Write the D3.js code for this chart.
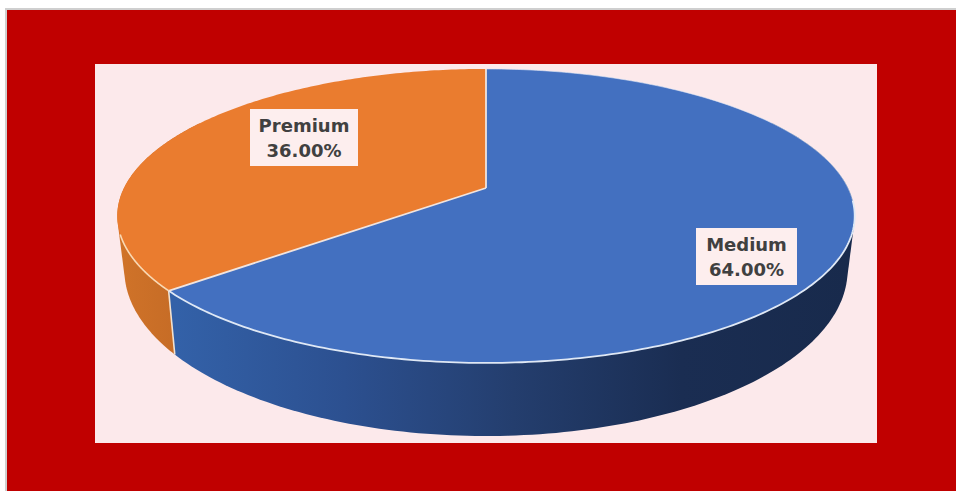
<!DOCTYPE html>
<html>
<head>
<meta charset="utf-8">
<script src="https://cdn.jsdelivr.net/npm/d3@7"></script>
<style>
  html, body { margin: 0; padding: 0; background: #fff; }
  svg { display: block; }
  text { font-family: "DejaVu Sans", sans-serif; font-weight: 700; }
</style>
</head>
<body>
<svg id="chart" width="957" height="491"></svg>
<script>
// Share of sales by product tier
const categories = ["Medium", "Premium"];
const shares = [64, 36];
const topColors = ["#4370c0", "#ea7c2f"];
const wallStops = [
  ["#3361a8", "#2c5090", "#243e6e", "#1a2d52", "#182a4c"],
  ["#d07329", "#c66c26"]
];
const labelText = ["64.00%", "36.00%"];

const svg = d3.select("#chart");

// Frame and plot panel
svg.append("rect").attr("x", 5).attr("y", 8).attr("width", 951).attr("height", 483).attr("fill", "#cfcfcf");
svg.append("rect").attr("x", 7).attr("y", 10).attr("width", 949).attr("height", 481).attr("fill", "#c00000");
svg.append("rect").attr("x", 95).attr("y", 64).attr("width", 782).attr("height", 379).attr("fill", "#fce9eb");

// Tilted disc: a unit circle under a perspective divide
const tilt = 0.19;
const toU = t => Math.sin(t) / (1 + tilt * Math.cos(t));
const toV = t => -Math.cos(t) / (1 + tilt * Math.cos(t));

const topX = d3.scaleLinear().domain([-1, 1]).range([486 - 362, 486 + 362]);
const topY = d3.scaleLinear().domain([0, 1]).range([188, 188 + 141.7]);
const baseX = d3.scaleLinear().domain([-1, 1]).range([486 - 355, 486 + 355]);
const baseY = d3.scaleLinear().domain([0, 1]).range([238.5, 238.5 + 160]);

const onTop = t => [topX(toU(t)), topY(toV(t))];
const onBase = t => [baseX(toU(t)), baseY(toV(t))];
const sweep = (from, to, fn) => {
  const n = 160;
  return d3.range(n + 1).map(i => fn(from + (to - from) * i / n));
};

const pie = d3.pie().sort(null)(shares);
const outline = d3.line();
const rad = d => d * Math.PI / 180;

// Side walls are filled with left-to-right shading
const defs = svg.append("defs");
wallStops.forEach((stops, i) => {
  const span = i === 0 ? [176, 850] : [118, 176];
  const g = defs.append("linearGradient")
    .attr("id", "wall" + i)
    .attr("gradientUnits", "userSpaceOnUse")
    .attr("x1", span[0]).attr("x2", span[1]).attr("y1", 0).attr("y2", 0);
  stops.forEach((c, j) => g.append("stop")
    .attr("offset", j / (stops.length - 1)).attr("stop-color", c));
});

// Each wall is the convex outline of its rim and base arcs; the upper face hides the rest.
// The rear slice's wall goes first so the front wall keeps the corner edge clean.
const seam = pie[0].endAngle;
const wallRanges = [[rad(60), seam], [seam, rad(300)]];
[1, 0].forEach(i => {
  const r = wallRanges[i];
  const hull = d3.polygonHull(sweep(r[0], r[1], onTop).concat(sweep(r[0], r[1], onBase)));
  svg.append("path")
    .attr("d", outline(hull) + "Z")
    .attr("fill", `url(#wall${i})`);
});

// Pale line down the front corner where the two walls meet
svg.append("path")
  .attr("d", outline([onTop(seam), onBase(seam)]))
  .attr("stroke", "#f3e2cf").attr("stroke-width", 1.6).attr("fill", "none");

// Upper faces of the slices
const hub = [topX(0), topY(0)];
pie.forEach((slice, i) => {
  const pts = [hub].concat(sweep(slice.startAngle, slice.endAngle, onTop));
  svg.append("path")
    .attr("d", outline(pts) + "Z")
    .attr("fill", topColors[i]);
});

// Rim and spokes
svg.append("path")
  .attr("d", outline(sweep(0, rad(95), onTop)))
  .attr("fill", "none").attr("stroke", "#dfe8f5").attr("stroke-width", 1).attr("stroke-opacity", 0.6);
svg.append("path")
  .attr("d", outline(sweep(rad(95), seam, onTop)))
  .attr("fill", "none").attr("stroke", "#dfe8f5").attr("stroke-width", 1.8);
svg.append("path")
  .attr("d", outline(sweep(seam, rad(252), onTop)))
  .attr("fill", "none").attr("stroke", "#f9d9b4").attr("stroke-width", 1.6);
[pie[0].startAngle, seam].forEach(a => {
  svg.append("path")
    .attr("d", outline([hub, onTop(a)]))
    .attr("fill", "none").attr("stroke", "#f1e4de").attr("stroke-width", 1.8);
});

// Data labels in pale boxes
const labelBoxes = [
  { x: 696, y: 228, w: 101, h: 57 },
  { x: 250, y: 109, w: 108, h: 57 }
];
categories.forEach((name, i) => {
  const b = labelBoxes[i];
  svg.append("rect")
    .attr("x", b.x).attr("y", b.y).attr("width", b.w).attr("height", b.h)
    .attr("fill", "#fdeeee");
  const cx = b.x + b.w / 2;
  svg.append("text").attr("x", cx).attr("y", b.y + 23)
    .attr("text-anchor", "middle").attr("font-size", 18).attr("fill", "#404040").text(name);
  svg.append("text").attr("x", cx).attr("y", b.y + 48)
    .attr("text-anchor", "middle").attr("font-size", 18).attr("fill", "#404040").text(labelText[i]);
});
</script>
</body>
</html>
